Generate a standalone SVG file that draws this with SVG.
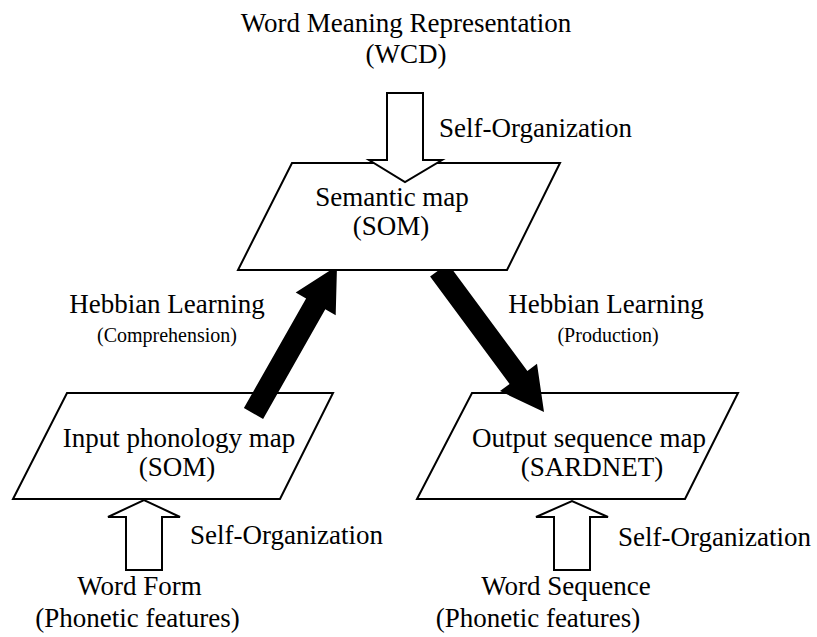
<svg xmlns="http://www.w3.org/2000/svg" width="817" height="637" viewBox="0 0 817 637">
<style>
text{font-family:"Liberation Serif","Times New Roman",serif;fill:#000;text-anchor:middle}
.t{font-size:27px}
.s{font-size:20px}
.l{text-anchor:start}
.map{fill:#fff;stroke:#000;stroke-width:2;stroke-linejoin:miter}
.hollow{fill:#fff;stroke:#000;stroke-width:2;stroke-linejoin:miter}
.solid{fill:#000;stroke:none}
</style>
<rect width="817" height="637" fill="#fff"/>
<g id="wmr-label">
<text class="t" x="406" y="32">Word Meaning Representation</text>
<text class="t" x="406" y="63">(WCD)</text>
</g>
<g id="input-map">
<polygon class="map" points="67,393 333,393 280,499 13,499"/>
<text class="t" x="179" y="447">Input phonology map</text>
<text class="t" x="177" y="476">(SOM)</text>
</g>
<g id="output-map">
<polygon class="map" points="472,393 738,393 685,499 417,499"/>
<text class="t" x="589" y="447">Output sequence map</text>
<text class="t" x="592" y="476">(SARDNET)</text>
</g>
<g id="word-form">
<text class="t" x="139.5" y="595">Word Form</text>
<text class="t" x="137.5" y="627">(Phonetic features)</text>
</g>
<g id="word-sequence">
<text class="t" x="566" y="595">Word Sequence</text>
<text class="t" x="538" y="627">(Phonetic features)</text>
</g>
<g id="connectors">
<polygon class="solid" points="243.9,408.1 306.1,298.5 295.7,292.5 337,266 335.7,315.3 325.3,309.3 263.1,418.9"/>
<polygon class="solid" points="447.9,263.5 527.4,370.9 537,363.7 544,412 500,391.1 509.6,383.9 430.1,276.5"/>
<polygon class="hollow" points="126,570 126,517 108,517 144,500 180,517 162,517 162,570"/>
<polygon class="hollow" points="554,570 554,517 536,517 572,501 608,517 590,517 590,570"/>
</g>
<g id="semantic-map">
<polygon class="map" points="292,163 560,163 507,270 238,270"/>
<text class="t" x="392" y="206">Semantic map</text>
<text class="t" x="391" y="235">(SOM)</text>
</g>
<g id="top-arrow">
<polygon class="hollow" points="387,93 423,93 423,160 442,160 405,182 369,160 387,160"/>
</g>
<g id="labels">
<text class="t l" x="439" y="137">Self-Organization</text>
<text class="t l" x="190" y="544">Self-Organization</text>
<text class="t l" x="618" y="546">Self-Organization</text>
<text class="t" x="167" y="313">Hebbian Learning</text>
<text class="s" x="167" y="342">(Comprehension)</text>
<text class="t" x="606" y="313">Hebbian Learning</text>
<text class="s" x="608" y="342">(Production)</text>
</g>
</svg>
